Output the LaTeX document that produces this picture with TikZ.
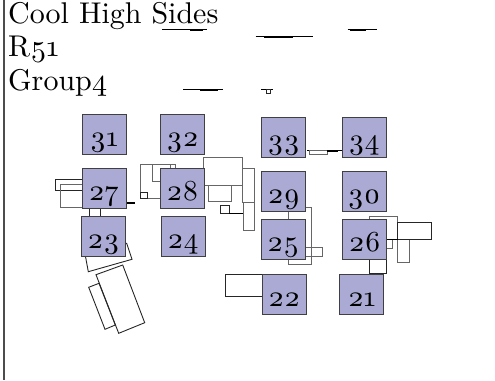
\documentclass[tikz,border=0pt]{standalone}
\usepackage{xcolor}
\usepackage{fontspec}
\setmainfont{lmroman10-regular}[Extension=.otf, Numbers=OldStyle]
\usepackage{tikz}
\definecolor{padblue}{HTML}{AAAAD5}
\tikzset{
    pad/.style={draw=black!75, fill=padblue, line width=0.9pt, minimum width=44pt, minimum height=40pt, inner sep=0pt, text height=24pt, text depth=0pt, font=\fontsize{29}{29}\selectfont},
    part/.style={draw=black!85, line width=0.9pt},
    partgray/.style={draw=black!60, line width=1pt},
    trace/.style={draw=black, line width=0.9pt},
    blob/.style={draw=black, line width=2pt}
}
\begin{document}
\begin{tikzpicture}[x=1pt,y=-1pt]
    \useasboundingbox (0,0) rectangle (495,380);

    % Frame
    \draw[draw=black!70, line width=2pt] (4,0) -- (4,380);

    % Title
    \node[anchor=north west, inner sep=0pt, align=left, font=\fontsize{30}{33.5}\selectfont] (title) at (8,2) {Cool High Sides\\R51\\Group4};

    % Top traces
    \draw[trace] (162.3,29.5) -- (207.3,29.5);
    \draw[blob] (190,30) -- (203,30);
    \draw[trace] (183,89.3) -- (223,89.3);
    \draw[blob] (200,89.6) -- (218,89.6);
    \draw[trace] (255.7,36) -- (313,36);
    \draw[blob] (264,37) -- (293,37);
    \draw[trace] (347.7,29) -- (376.7,29);
    \draw[blob] (350,29.6) -- (366,29.6);
    \draw[trace] (261,89) -- (273,89);
    \draw[part, line width=0.7pt] (266.7,89.5) rectangle (270,93);

    % Between 33 and 34
    \draw[trace] (307,150.3) -- (341.7,150.3);
    \draw[partgray] (309,150.5) rectangle (327,154);
    \draw[blob] (327,151.2) -- (338.3,151.2);

    % Around 27 and 23
    \draw[part] (55.3,179) rectangle (90,190);
    \draw[partgray] (60.7,184.7) rectangle (90,207.7);
    \draw[trace, line width=1.2pt] (126,203) -- (135,203);
    \draw[part] (89.3,205) rectangle (100.7,220);
    \draw[part] (126.7,243.3) -- (132,259.3) -- (88.3,271.7) -- (84.3,250) -- cycle;

    % Rotated parts
    \draw[part] (88.7,287.3) -- (99,283.3) -- (115.3,325) -- (105,329.3) -- cycle;
    \draw[part] (96,274.7) -- (122.7,265) -- (144.7,322.7) -- (118.7,333.3) -- cycle;

    % Around 28
    \draw[partgray] (140.7,164.3) rectangle (170,198.3);
    \draw[partgray] (152.7,164.3) rectangle (175,181);
    \draw[part] (140.7,192) rectangle (147,198.3);
    \draw[partgray] (242.7,168) rectangle (254.3,202.3);
    \draw[partgray] (203.3,157) rectangle (242.7,185);
    \draw[partgray] (208.7,185) rectangle (231.7,201.7);
    \draw[part] (220.7,205) rectangle (229,213);
    \draw[trace] (229,213) -- (243.3,213);
    \draw[partgray] (243.3,202.3) rectangle (254.3,230);

    % Around 25 and 29
    \draw[partgray] (288.3,207.7) rectangle (311,264.3);
    \draw[partgray] (300,247) rectangle (322.3,256);

    % Around 26
    \draw[partgray] (369.3,216.7) rectangle (397.7,239.3);
    \draw[part] (369.3,255) rectangle (386.3,273.3);
    \draw[partgray] (380,239.3) rectangle (392,248.3);
    \draw[partgray] (397.7,239.3) rectangle (409.3,262);
    \draw[part] (397.7,222.3) rectangle (431.7,239.3);
    \draw[trace] (386.7,239.3) -- (397.7,239.3);

    % Left of 22
    \draw[part] (225.3,274.3) rectangle (270,296.7);

    % Numbered pads
    \node[pad] (p31) at (104,134.5) {31};
    \node[pad] (p32) at (182.5,134.5) {32};
    \node[pad] (p33) at (283.7,137) {33};
    \node[pad] (p34) at (364,137) {34};
    \node[pad] (p27) at (104,188.5) {27};
    \node[pad] (p28) at (182.5,188.5) {28};
    \node[pad] (p29) at (283.7,191) {29};
    \node[pad] (p30) at (364,191) {30};
    \node[pad] (p23) at (103.5,236.7) {23};
    \node[pad] (p24) at (183,236.7) {24};
    \node[pad] (p25) at (283.2,239.3) {25};
    \node[pad] (p26) at (364.7,239.3) {26};
    \node[pad] (p22) at (284.2,294.3) {22};
    \node[pad] (p21) at (361.7,294.3) {21};
\end{tikzpicture}
\end{document}
